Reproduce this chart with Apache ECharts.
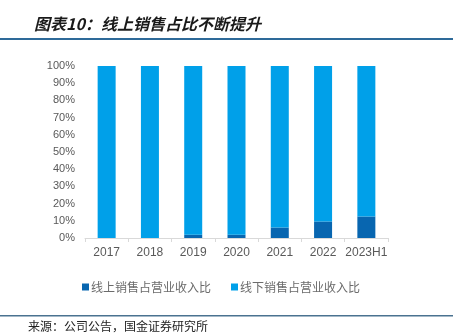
<!DOCTYPE html>
<html><head><meta charset="utf-8">
<script src="https://cdn.jsdelivr.net/npm/echarts@6/dist/echarts.min.js"></script>
<style>html,body{margin:0;padding:0;background:#fff}#c{width:453px;height:336px}</style>
</head><body><div id="c"></div>
<script>
const categories = ['2017','2018','2019','2020','2021','2022','2023H1'];
const onlineShare = [0, 0, 1.9, 1.9, 6.1, 9.6, 12.5];
const offlineShare = [100, 100, 98.1, 98.1, 93.9, 90.4, 87.5];
const seriesNames = ['线上销售占营业收入比', '线下销售占营业收入比'];
const titleText = '图表10：线上销售占比不断提升';
const sourceText = '来源：公司公告，国金证券研究所';

const chart = echarts.init(document.getElementById('c'), null, {renderer:'canvas'});
const font = '"Liberation Sans", Arial, "Noto Sans CJK SC", sans-serif';
chart.setOption({
  animation: false,
  backgroundColor: '#fff',
  title: {
    text: titleText, left: 29, top: 11,
    textStyle: {fontSize: 16, fontWeight: 'bold', fontStyle: 'italic', color: '#1a1a1a', fontFamily: '"Noto Sans CJK SC", sans-serif'}
  },
  graphic: [
    {type: 'rect', shape: {x: 0, y: 38, width: 453, height: 2}, style: {fill: '#2e6a99'}},
    {type: 'rect', shape: {x: 0, y: 315, width: 453, height: 1.5}, style: {fill: '#4a7290'}},
    {type: 'text', left: 28, top: 320, style: {text: sourceText, fontSize: 12, fill: '#222', fontFamily: '"Noto Sans CJK SC", sans-serif'}}
  ],
  legend: {
    top: 276, left: 77, itemWidth: 7, itemHeight: 7, itemGap: 20,
    icon: 'rect',
    textStyle: {fontSize: 12, color: '#6b6b6b', fontFamily: '"Noto Sans CJK SC", sans-serif', padding: [0,0,0,-3]},
    data: seriesNames
  },
  grid: {left: 85, right: 65, top: 66, bottom: 98},
  xAxis: {
    type: 'category', data: categories,
    axisLine: {lineStyle: {color: '#d9d9d9'}},
    axisTick: {show: true, alignWithLabel: false, length: 4, lineStyle: {color: '#d9d9d9'}},
    axisLabel: {interval: 0, color: '#595959', fontSize: 12, margin: 9, fontFamily: font}
  },
  yAxis: {
    type: 'value', min: 0, max: 100, interval: 10,
    axisLine: {show: false}, axisTick: {show: false}, splitLine: {show: false},
    axisLabel: {formatter: '{value}%', color: '#595959', fontSize: 11, margin: 10, fontFamily: font}
  },
  series: [
    {name: seriesNames[0], type: 'bar', stack: 's', data: onlineShare, barWidth: 18, itemStyle: {color: '#0866b0'}},
    {name: seriesNames[1], type: 'bar', stack: 's', data: offlineShare, barWidth: 18, itemStyle: {color: '#00a0e9'}}
  ]
});
</script></body></html>
